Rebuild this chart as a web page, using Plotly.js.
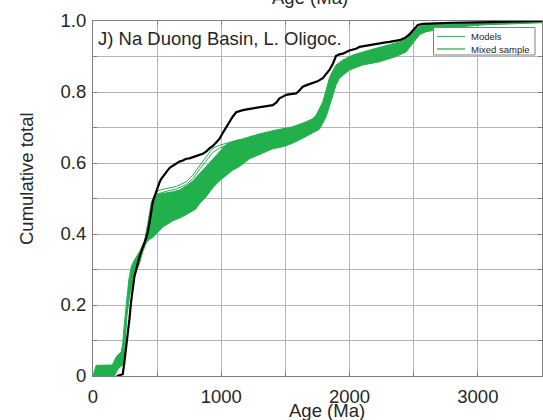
<!DOCTYPE html>
<html>
<head>
<meta charset="utf-8">
<script src="https://cdn.plot.ly/plotly-3.0.1.min.js"></script>
<style>
  html, body { margin: 0; padding: 0; background: #fff; }
  #chart { width: 543px; height: 420px; }
</style>
</head>
<body>
<div id="chart"></div>
<script>
// Observed detrital zircon sample: cumulative proportion vs age (Ma)
const sampleAge = [185, 232, 245, 259, 271, 284, 297, 310, 323, 337, 349, 362, 375, 388, 401, 415, 427, 440, 453, 466, 479, 492, 505, 518, 531, 550, 570, 583, 600, 622, 648, 674, 700, 726, 752, 778, 804, 830, 856, 882, 908, 934, 960, 986, 1012, 1038, 1064, 1090, 1116, 1142, 1168, 1200, 1246, 1300, 1350, 1401, 1428, 1454, 1480, 1506, 1540, 1584, 1610, 1635, 1670, 1713, 1750, 1791, 1817, 1843, 1869, 1882, 1895, 1921, 1947, 1999, 2050, 2077, 2120, 2155, 2200, 2233, 2270, 2311, 2350, 2389, 2430, 2467, 2490, 2506, 2520, 2532, 2571, 2675, 2800, 3000, 3200, 3400, 3500];
const sampleCum = [0.0, 0.005, 0.04, 0.08, 0.12, 0.16, 0.21, 0.25, 0.28, 0.30, 0.32, 0.335, 0.35, 0.36, 0.375, 0.39, 0.405, 0.43, 0.465, 0.49, 0.505, 0.52, 0.535, 0.545, 0.555, 0.565, 0.572, 0.58, 0.587, 0.592, 0.599, 0.604, 0.607, 0.612, 0.613, 0.617, 0.62, 0.623, 0.626, 0.632, 0.641, 0.648, 0.658, 0.668, 0.685, 0.70, 0.718, 0.731, 0.743, 0.747, 0.749, 0.751, 0.754, 0.756, 0.759, 0.763, 0.77, 0.782, 0.787, 0.792, 0.794, 0.796, 0.805, 0.815, 0.82, 0.825, 0.83, 0.839, 0.852, 0.862, 0.879, 0.89, 0.902, 0.906, 0.908, 0.917, 0.922, 0.927, 0.93, 0.932, 0.935, 0.937, 0.939, 0.941, 0.943, 0.946, 0.952, 0.962, 0.972, 0.979, 0.985, 0.989, 0.992, 0.994, 0.995, 0.996, 0.997, 0.999, 1.0];

// Envelope of the modelled mixtures (upper / lower bounds of all model curves)
const bandUpperAge = [0, 25, 150, 170, 185, 220, 232, 240, 253, 264, 279, 298, 323, 362, 401, 427, 440, 453, 466, 492, 520, 570, 622, 674, 726, 780, 830, 880, 934, 986, 1038, 1090, 1142, 1200, 1298, 1428, 1557, 1662, 1713, 1740, 1765, 1791, 1817, 1843, 1869, 1895, 1947, 2025, 2155, 2285, 2389, 2441, 2493, 2545, 2649, 2800, 3000, 3300, 3500];
const bandUpperCum = [0, 0.03, 0.031, 0.045, 0.056, 0.068, 0.092, 0.13, 0.177, 0.223, 0.27, 0.308, 0.327, 0.35, 0.38, 0.43, 0.458, 0.486, 0.50, 0.51, 0.513, 0.515, 0.519, 0.524, 0.535, 0.55, 0.57, 0.59, 0.612, 0.632, 0.652, 0.66, 0.666, 0.672, 0.682, 0.693, 0.702, 0.716, 0.725, 0.735, 0.755, 0.772, 0.805, 0.84, 0.86, 0.876, 0.89, 0.904, 0.918, 0.932, 0.941, 0.951, 0.97, 0.985, 0.992, 0.995, 0.997, 0.999, 1.0];
const bandLowerAge = [0, 168, 193, 232, 245, 253, 264, 284, 310, 337, 362, 388, 415, 440, 466, 492, 544, 622, 700, 752, 800, 830, 882, 934, 986, 1038, 1090, 1142, 1220, 1272, 1350, 1401, 1480, 1532, 1610, 1713, 1765, 1791, 1817, 1843, 1869, 1895, 1921, 1999, 2103, 2233, 2363, 2441, 2493, 2545, 2597, 2675, 2800, 3038, 3300, 3500];
const bandLowerCum = [0, 0.0, 0.02, 0.031, 0.064, 0.11, 0.167, 0.223, 0.27, 0.294, 0.317, 0.35, 0.375, 0.385, 0.39, 0.40, 0.42, 0.437, 0.449, 0.46, 0.47, 0.485, 0.505, 0.53, 0.55, 0.565, 0.58, 0.59, 0.612, 0.62, 0.632, 0.64, 0.646, 0.652, 0.665, 0.684, 0.695, 0.712, 0.73, 0.76, 0.79, 0.82, 0.839, 0.862, 0.876, 0.885, 0.9, 0.913, 0.937, 0.961, 0.97, 0.975, 0.982, 0.989, 0.993, 0.995];

// Two model runs that sit above the main envelope
const modelAge = [466, 505, 570, 650, 726, 780, 830, 882, 934, 986, 1038, 1090, 1142];
const modelACum = [0.50, 0.522, 0.528, 0.534, 0.547, 0.567, 0.592, 0.617, 0.642, 0.65, 0.656, 0.661, 0.666];
const modelBCum = [0.495, 0.513, 0.52, 0.527, 0.539, 0.557, 0.582, 0.606, 0.63, 0.642, 0.65, 0.657, 0.663];

// Axis ticks (grid every 500 Ma / 0.1, labels every 1000 Ma / 0.2)
const xTickVals = [0, 500, 1000, 1500, 2000, 2500, 3000, 3500];
const xTickText = ['0', '', '1000', '', '2000', '', '3000', ''];
const yTickVals = [0, 0.1, 0.2, 0.3, 0.4, 0.5, 0.6, 0.7, 0.8, 0.9, 1.0];
const yTickText = ['0', '', '0.2', '', '0.4', '', '0.6', '', '0.8', '', '1.0'];

const panelLabel = 'J) Na Duong Basin, L. Oligoc.';
const xLabel = 'Age (Ma)';
const yLabel = 'Cumulative total';
const legendNames = ['Models', 'Mixed sample'];

const GREEN = 'rgb(34,176,76)';
const FONT = 'Liberation Sans, Arial, Helvetica, sans-serif';
const TXT = '#262626';
const FRAME = '#7f7f7f';
const GRID = '#b4b4b4';

const traces = [
  { x: bandLowerAge, y: bandLowerCum, mode: 'lines', line: { color: GREEN, width: 1 },
    showlegend: false, hoverinfo: 'skip' },
  { x: bandUpperAge, y: bandUpperCum, mode: 'lines', line: { color: GREEN, width: 1 },
    fill: 'tonexty', fillcolor: GREEN, showlegend: false, hoverinfo: 'skip' },
  { x: modelAge, y: modelACum, mode: 'lines', line: { color: 'rgb(40,170,80)', width: 1 },
    showlegend: false },
  { x: modelAge, y: modelBCum, mode: 'lines', line: { color: 'rgb(40,170,80)', width: 1 },
    showlegend: false },
  { x: sampleAge, y: sampleCum, mode: 'lines', line: { color: '#000', width: 2.2 },
    showlegend: false }
];

// paper coordinates of the plot area: x 93..542 px, y 21..376 px
const px = v => (v - 93) / 449;
const py = v => (376 - v) / 355;

const layout = {
  width: 543, height: 420,
  margin: { l: 93, r: 1, t: 21, b: 44, pad: 0 },
  paper_bgcolor: '#ffffff', plot_bgcolor: '#ffffff',
  font: { family: FONT, size: 18.5, color: TXT },
  showlegend: false,
  xaxis: {
    range: [0, 3500], tickmode: 'array', tickvals: xTickVals, ticktext: xTickText,
    showline: true, linecolor: FRAME, linewidth: 1, mirror: 'allticks',
    ticks: 'inside', ticklen: 4, tickcolor: FRAME, tickwidth: 1,
    showgrid: true, gridcolor: GRID, gridwidth: 1, layer: 'below traces',
    zeroline: false, ticklabelstandoff: 4,
    tickfont: { family: FONT, size: 18.5, color: TXT }
  },
  yaxis: {
    range: [0, 1], tickmode: 'array', tickvals: yTickVals, ticktext: yTickText,
    showline: true, linecolor: FRAME, linewidth: 1, mirror: 'allticks',
    ticks: 'inside', ticklen: 4, tickcolor: FRAME, tickwidth: 1,
    showgrid: true, gridcolor: GRID, gridwidth: 1, layer: 'below traces',
    zeroline: false, ticklabelstandoff: 2,
    tickfont: { family: FONT, size: 18.5, color: TXT }
  },
  annotations: [
    { text: panelLabel, xref: 'paper', yref: 'paper', x: px(96), y: py(38),
      xanchor: 'left', yanchor: 'middle', showarrow: false,
      font: { family: FONT, size: 18.5, color: TXT } },
    { text: xLabel, xref: 'paper', yref: 'paper', x: px(327), y: py(410),
      xanchor: 'center', yanchor: 'middle', showarrow: false,
      font: { family: FONT, size: 18.5, color: TXT } },
    { text: xLabel, xref: 'paper', yref: 'paper', x: px(310), y: py(-3),
      xanchor: 'center', yanchor: 'middle', showarrow: false,
      font: { family: FONT, size: 18.5, color: TXT } },
    { text: yLabel, xref: 'paper', yref: 'paper', x: px(26), y: py(179),
      xanchor: 'center', yanchor: 'middle', textangle: -90, showarrow: false,
      font: { family: FONT, size: 18.5, color: TXT } },
    { text: legendNames[0], xref: 'paper', yref: 'paper', x: px(469), y: py(36.5),
      xanchor: 'left', yanchor: 'middle', showarrow: false,
      font: { family: FONT, size: 9.5, color: TXT } },
    { text: legendNames[1], xref: 'paper', yref: 'paper', x: px(469), y: py(49),
      xanchor: 'left', yanchor: 'middle', showarrow: false,
      font: { family: FONT, size: 9.5, color: TXT } }
  ],
  shapes: [
    { type: 'rect', xref: 'paper', yref: 'paper', x0: px(433.5), x1: px(535), y0: py(27.5), y1: py(55),
      line: { color: FRAME, width: 1 }, fillcolor: '#fff', layer: 'above' },
    { type: 'line', xref: 'paper', yref: 'paper', x0: px(437), x1: px(465), y0: py(36.5), y1: py(36.5),
      line: { color: 'rgb(60,184,110)', width: 1.2 }, layer: 'above' },
    { type: 'line', xref: 'paper', yref: 'paper', x0: px(437), x1: px(465), y0: py(49), y1: py(49),
      line: { color: 'rgb(34,160,70)', width: 1.2 }, layer: 'above' }
  ]
};

Plotly.newPlot('chart', traces, layout, { staticPlot: true, displayModeBar: false });
</script>
</body>
</html>
